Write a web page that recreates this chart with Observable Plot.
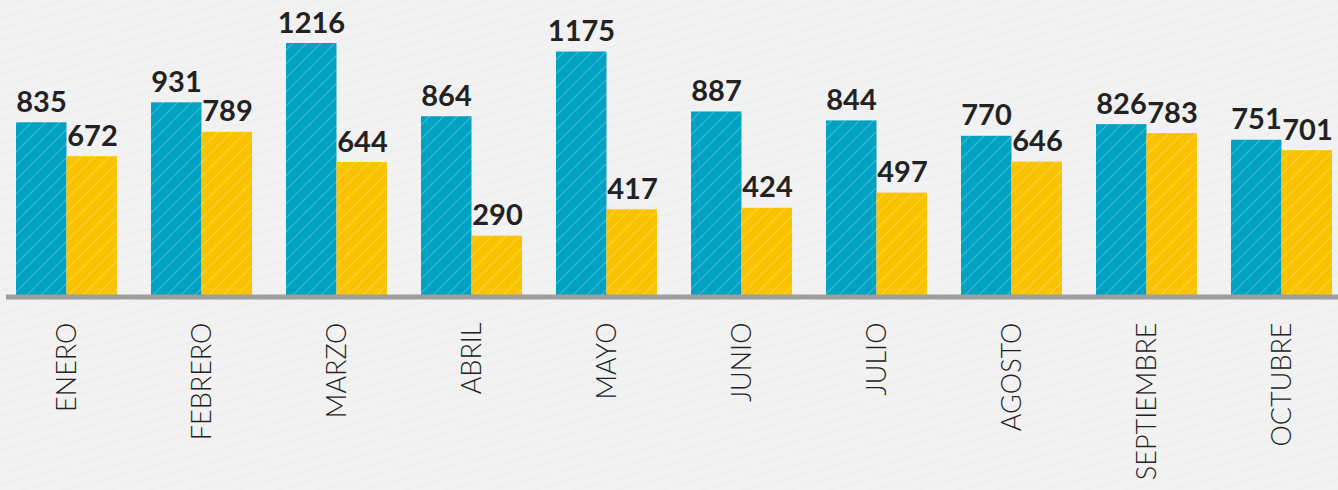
<!DOCTYPE html>
<html>
<head>
<meta charset="utf-8">
<script src="https://cdn.jsdelivr.net/npm/d3@7"></script>
<script src="https://cdn.jsdelivr.net/npm/@observablehq/plot@0.6"></script>
<style>
  html, body { margin: 0; padding: 0; background: #f2f2f2; }
  #chart svg { display: block; }
</style>
</head>
<body>
<svg width="0" height="0" style="position:absolute">
  <defs>
    <pattern id="hatch" patternUnits="userSpaceOnUse" width="14" height="14">
      <path d="M-2,2 l4,-4 M0,14 l14,-14 M12,16 l4,-4" stroke="#ffffff" stroke-opacity="0.25" stroke-width="1.2"/>
    </pattern>
    <pattern id="bgtex" patternUnits="userSpaceOnUse" width="11" height="11" patternTransform="rotate(-15)">
      <rect width="11" height="11" fill="#f2f2f2"/>
      <path d="M0,5.5 h11" stroke="#efefef" stroke-width="2"/>
    </pattern>
  </defs>
</svg>
<div id="chart"></div>
<script>
const months = ["ENERO","FEBRERO","MARZO","ABRIL","MAYO","JUNIO","JULIO","AGOSTO","SEPTIEMBRE","OCTUBRE"];
const seriesA = [835, 931, 1216, 864, 1175, 887, 844, 770, 826, 751];
const seriesB = [672, 789, 644, 290, 417, 424, 497, 646, 783, 701];

const data = months.map((m, i) => ({month: m, a: seriesA[i], b: seriesB[i]}));

const blue = "#00a2c4";
const yellow = "#fbc200";
const half = 50.5;

const chart = Plot.plot({
  width: 1338,
  height: 490,
  marginLeft: 6,
  marginRight: 0,
  marginTop: 0,
  marginBottom: 194,
  style: {background: "transparent", fontFamily: "Lato, 'Open Sans', sans-serif"},
  x: {domain: months, range: [-18.6, 1366.5], padding: 0.2525, label: null},
  y: {domain: [0, 1216], range: [296, 43], axis: null},
  marks: [
    Plot.frame({fill: "url(#bgtex)", stroke: "none", inset: -200}),
    Plot.barY(data, {x: "month", y: "a", fill: blue, insetRight: half}),
    Plot.barY(data, {x: "month", y: "a", fill: "url(#hatch)", insetRight: half}),
    Plot.barY(data, {x: "month", y: "b", fill: yellow, insetLeft: half}),
    Plot.barY(data, {x: "month", y: "b", fill: "url(#hatch)", insetLeft: half}),
    Plot.ruleY([0], {stroke: "#9e9e9e", strokeWidth: 5, dy: 0.5}),
    Plot.text(data, {x: "month", y: "a", text: d => String(d.a), dx: -25.5, dy: -11, lineAnchor: "bottom", fontSize: 29, fontWeight: "bold", fill: "#222"}),
    Plot.text(data, {x: "month", y: "b", text: d => String(d.b), dx: 25.5, dy: -11, lineAnchor: "bottom", fontSize: 29, fontWeight: "bold", fill: "#222"}),
    Plot.axisX({tickSize: 0, tickPadding: 26, tickRotate: -90, fontSize: 27, fill: "#222", label: null, fontWeight: 300})
  ]
});
document.getElementById("chart").appendChild(chart);
</script>
</body>
</html>
